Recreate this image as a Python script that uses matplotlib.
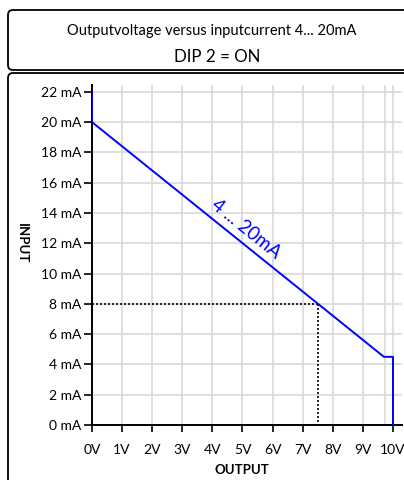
import matplotlib
matplotlib.use("Agg")
import matplotlib.pyplot as plt
from matplotlib.patches import FancyBboxPatch
from matplotlib.transforms import IdentityTransform

plt.rcParams["font.family"] = ["Lato", "DejaVu Sans"]

# curve: output voltage (V) vs input current (mA)
volts = [0, 0, 9.7, 10, 10]
current = [22, 20, 4.5, 4.5, 0]

# example reading (dotted helper lines)
mark_v = 7.5
mark_ma = 8

x_ticks = list(range(0, 11))
x_labels = [f"{v}V" for v in x_ticks]
y_ticks = list(range(0, 23, 2))
y_labels = [f"{m} mA" for m in y_ticks]
extra_vgrid = [9.75]

W, H = 404, 480
fig = plt.figure(figsize=(W / 100, H / 100), dpi=100)


def px_box(x0, y0, x1, y1):
    """Rounded box given in image pixel coords (y from top)."""
    p = FancyBboxPatch((x0, H - y1), x1 - x0, y1 - y0,
                       boxstyle="round,pad=0,rounding_size=5",
                       transform=IdentityTransform(), fill=False,
                       edgecolor="black", linewidth=1.3)
    fig.patches.append(p)


px_box(8, 10, 430, 70)
px_box(8, 73, 430, 500)

fig.text(212 / W, 1 - 31 / H, "Outputvoltage versus inputcurrent 4... 20mA",
         ha="center", va="center", fontsize=10.5)
fig.text(217 / W, 1 - 57 / H, "DIP 2 = ON", ha="center", va="center", fontsize=12.2)

left, right, top, bottom = 92, 401.7, 85, 425
ax = fig.add_axes([left / W, 1 - bottom / H, (right - left) / W, (bottom - top) / H])
ax.set_xlim(0, 10.29)
ax.set_ylim(0, 22.45)

grid_kw = dict(color="#d9d9d9", linewidth=1.2, zorder=0)
for v in x_ticks + extra_vgrid:
    ax.axvline(v, **grid_kw)
for m in y_ticks:
    ax.axhline(m, **grid_kw)

ax.plot(volts, current, color="#0000ff", linewidth=1.4, zorder=3)
ax.plot([0, mark_v], [mark_ma, mark_ma], color="black", linestyle=(0, (1.2, 1.2)),
        linewidth=1.2, zorder=2)
ax.plot([mark_v, mark_v], [mark_ma, 0], color="black", linestyle=(0, (1.2, 1.2)),
        linewidth=1.2, zorder=2)

ax.text(5.1, 12.95, "4 ... 20mA", color="#0000ff", fontsize=13.5,
        rotation=-38.8, rotation_mode="anchor", ha="center", va="center")

for s in ["top", "right"]:
    ax.spines[s].set_visible(False)
for s in ["left", "bottom"]:
    ax.spines[s].set_linewidth(1.4)

ax.set_xticks(x_ticks)
ax.set_xticklabels(x_labels)
ax.set_yticks(y_ticks)
ax.set_yticklabels(y_labels)
ax.tick_params(axis="x", direction="out", length=5, width=1.2, labelsize=10, pad=9)
ax.tick_params(axis="y", direction="out", length=6, width=1.2, labelsize=10, pad=1.5)

fig.text(242 / W, 1 - 470 / H, "OUTPUT", ha="center", va="center",
         fontsize=9.5, fontweight="bold")
fig.text(22 / W, 1 - 243 / H, "INPUT", ha="center", va="center",
         fontsize=9.5, fontweight="bold", rotation=270)

fig.savefig("out.png", dpi=100)
